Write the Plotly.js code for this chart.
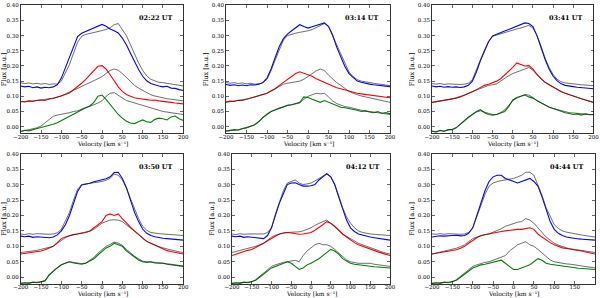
<!DOCTYPE html>
<html>
<head>
<meta charset="utf-8">
<script src="https://cdn.plot.ly/plotly-3.0.1.min.js"></script>
<style>html,body{margin:0;padding:0;background:#fff;}#plot{width:600px;height:298px;}</style>
</head>
<body>
<div id="plot"></div>
<script>
// Velocity grid [km/s]
const velocity = [-200,-190,-180,-170,-160,-150,-140,-130,-120,-110,-100,-90,-80,-70,-60,-50,-40,-30,-20,-10,0,10,20,30,40,50,60,70,80,90,100,110,120,130,140,150,160,170,180,190,200];

const panelLabels = ["02:22 UT","03:14 UT","03:41 UT","03:50 UT","04:12 UT","04:44 UT"];
const yTickVals = [0.00,0.05,0.10,0.15,0.20,0.25,0.30,0.35,0.40];
const yTickText = ["0.00","0.05","0.10","0.15","0.20","0.25","0.30","0.35","0.40"];
const xTickVals = [-200,-150,-100,-50,0,50,100,150,200];
const xTickText = ["\u2212200","\u2212150","\u2212100","\u221250","0","50","100","150","200"];

// ---- Panel 1: 02:22 UT
const p1Blue = [0.134,0.131,0.133,0.128,0.131,0.127,0.130,0.128,0.131,0.138,0.160,0.195,0.232,0.265,0.297,0.308,0.314,0.319,0.326,0.330,0.337,0.331,0.322,0.316,0.309,0.292,0.270,0.242,0.214,0.188,0.166,0.151,0.142,0.137,0.134,0.131,0.133,0.127,0.126,0.122,0.119];
const p1BlueRef = [0.145,0.142,0.144,0.141,0.143,0.140,0.142,0.139,0.141,0.140,0.150,0.176,0.205,0.242,0.278,0.298,0.304,0.307,0.310,0.313,0.316,0.320,0.326,0.336,0.340,0.322,0.300,0.270,0.240,0.210,0.186,0.167,0.156,0.150,0.146,0.145,0.143,0.140,0.138,0.137,0.134];
const p1Red = [0.083,0.081,0.085,0.083,0.087,0.088,0.086,0.091,0.093,0.097,0.100,0.106,0.111,0.121,0.130,0.143,0.156,0.170,0.186,0.199,0.201,0.190,0.171,0.150,0.131,0.116,0.106,0.100,0.095,0.093,0.090,0.089,0.087,0.088,0.085,0.084,0.082,0.080,0.078,0.077,0.075];
const p1RedRef = [0.082,0.083,0.082,0.085,0.086,0.088,0.089,0.092,0.094,0.097,0.101,0.108,0.115,0.120,0.126,0.132,0.140,0.145,0.150,0.158,0.165,0.176,0.185,0.190,0.186,0.175,0.161,0.149,0.136,0.127,0.120,0.112,0.105,0.101,0.097,0.095,0.092,0.090,0.088,0.086,0.085];
const p1Green = [-0.016,-0.012,-0.014,-0.009,-0.006,-0.003,0.000,0.004,0.008,0.013,0.020,0.028,0.036,0.042,0.050,0.055,0.062,0.068,0.080,0.100,0.104,0.090,0.072,0.054,0.040,0.028,0.018,0.012,0.010,0.016,0.022,0.016,0.014,0.024,0.028,0.026,0.022,0.032,0.035,0.026,0.020];
const p1GreenRef = [-0.016,-0.013,-0.012,-0.008,-0.004,0.002,0.012,0.024,0.034,0.038,0.040,0.044,0.046,0.050,0.052,0.058,0.062,0.066,0.072,0.078,0.085,0.100,0.110,0.112,0.104,0.096,0.086,0.082,0.078,0.072,0.070,0.066,0.062,0.058,0.052,0.050,0.048,0.046,0.044,0.042,0.040];

// ---- Panel 2: 03:14 UT
const p2Blue = [0.139,0.136,0.138,0.135,0.137,0.135,0.138,0.137,0.140,0.145,0.160,0.190,0.228,0.264,0.290,0.305,0.316,0.326,0.336,0.330,0.325,0.329,0.334,0.338,0.342,0.331,0.302,0.262,0.228,0.198,0.175,0.161,0.150,0.146,0.142,0.140,0.138,0.136,0.135,0.133,0.132];
const p2BlueRef = [0.145,0.143,0.145,0.142,0.144,0.141,0.143,0.140,0.141,0.145,0.156,0.185,0.220,0.255,0.285,0.300,0.305,0.308,0.311,0.313,0.316,0.320,0.326,0.332,0.340,0.330,0.300,0.266,0.235,0.205,0.180,0.165,0.155,0.150,0.147,0.145,0.143,0.141,0.139,0.137,0.135];
const p2Red = [0.082,0.084,0.083,0.087,0.086,0.090,0.093,0.097,0.100,0.105,0.110,0.118,0.125,0.136,0.146,0.156,0.166,0.175,0.181,0.176,0.170,0.166,0.158,0.152,0.146,0.140,0.132,0.128,0.125,0.121,0.116,0.112,0.110,0.108,0.106,0.104,0.102,0.100,0.098,0.097,0.095];
const p2RedRef = [0.080,0.082,0.083,0.086,0.088,0.091,0.094,0.098,0.101,0.105,0.110,0.117,0.125,0.133,0.140,0.143,0.145,0.147,0.150,0.156,0.165,0.175,0.184,0.190,0.185,0.170,0.156,0.145,0.136,0.126,0.116,0.110,0.105,0.101,0.098,0.095,0.092,0.089,0.086,0.083,0.080];
const p2Green = [-0.015,-0.013,-0.010,-0.012,-0.006,-0.004,0.000,0.006,0.016,0.030,0.040,0.050,0.055,0.060,0.066,0.070,0.072,0.076,0.080,0.098,0.096,0.090,0.086,0.080,0.086,0.080,0.074,0.070,0.064,0.062,0.060,0.056,0.054,0.050,0.052,0.048,0.046,0.050,0.044,0.046,0.042];
const p2GreenRef = [-0.015,-0.014,-0.011,-0.010,-0.007,-0.003,0.001,0.006,0.018,0.030,0.042,0.050,0.056,0.062,0.065,0.070,0.072,0.075,0.078,0.090,0.100,0.105,0.110,0.108,0.110,0.098,0.085,0.076,0.070,0.066,0.064,0.060,0.056,0.054,0.052,0.050,0.046,0.044,0.042,0.041,0.040];

// ---- Panel 3: 03:41 UT
const p3Blue = [0.134,0.131,0.133,0.130,0.132,0.130,0.131,0.129,0.131,0.136,0.150,0.180,0.218,0.250,0.280,0.299,0.305,0.310,0.315,0.320,0.325,0.330,0.335,0.342,0.340,0.330,0.300,0.260,0.222,0.190,0.166,0.151,0.141,0.136,0.133,0.132,0.130,0.129,0.128,0.126,0.125];
const p3BlueRef = [0.142,0.140,0.142,0.139,0.141,0.140,0.141,0.139,0.140,0.143,0.155,0.185,0.220,0.252,0.280,0.298,0.302,0.306,0.310,0.315,0.320,0.322,0.325,0.330,0.334,0.325,0.300,0.266,0.226,0.195,0.172,0.156,0.148,0.144,0.142,0.140,0.139,0.138,0.137,0.136,0.135];
const p3Red = [0.080,0.082,0.084,0.086,0.088,0.090,0.094,0.098,0.103,0.109,0.115,0.122,0.130,0.136,0.140,0.145,0.150,0.158,0.170,0.183,0.195,0.210,0.205,0.200,0.201,0.190,0.172,0.158,0.146,0.138,0.130,0.122,0.115,0.110,0.105,0.100,0.096,0.092,0.088,0.084,0.080];
const p3RedRef = [0.080,0.082,0.084,0.086,0.089,0.091,0.095,0.099,0.104,0.110,0.115,0.120,0.126,0.132,0.136,0.138,0.141,0.150,0.160,0.168,0.175,0.180,0.185,0.188,0.195,0.186,0.170,0.157,0.146,0.138,0.130,0.122,0.116,0.110,0.105,0.100,0.096,0.092,0.088,0.084,0.080];
const p3Green = [-0.015,-0.018,-0.012,-0.016,-0.010,-0.010,-0.004,0.008,0.018,0.030,0.040,0.050,0.056,0.046,0.040,0.038,0.040,0.044,0.050,0.066,0.088,0.096,0.100,0.104,0.098,0.094,0.086,0.078,0.070,0.064,0.060,0.055,0.050,0.046,0.043,0.040,0.042,0.038,0.042,0.039,0.040];
const p3GreenRef = [-0.015,-0.016,-0.014,-0.014,-0.011,-0.009,-0.003,0.009,0.020,0.032,0.040,0.048,0.052,0.048,0.044,0.040,0.040,0.046,0.055,0.070,0.085,0.094,0.100,0.106,0.104,0.096,0.085,0.078,0.070,0.065,0.060,0.056,0.052,0.048,0.046,0.045,0.044,0.042,0.041,0.040,0.039];

// ---- Panel 4: 03:50 UT
const p4Blue = [0.133,0.131,0.133,0.129,0.131,0.130,0.131,0.128,0.130,0.137,0.150,0.170,0.200,0.240,0.278,0.299,0.301,0.304,0.309,0.312,0.315,0.319,0.325,0.339,0.340,0.320,0.290,0.250,0.210,0.180,0.156,0.142,0.135,0.131,0.128,0.126,0.125,0.124,0.122,0.121,0.120];
const p4BlueRef = [0.140,0.138,0.141,0.139,0.141,0.140,0.141,0.139,0.140,0.144,0.155,0.180,0.210,0.250,0.285,0.300,0.302,0.303,0.305,0.308,0.310,0.314,0.320,0.334,0.330,0.315,0.290,0.255,0.220,0.190,0.165,0.152,0.145,0.142,0.141,0.140,0.139,0.138,0.137,0.136,0.135];
const p4Red = [0.075,0.077,0.079,0.080,0.083,0.085,0.089,0.094,0.100,0.112,0.125,0.130,0.135,0.138,0.140,0.142,0.145,0.150,0.160,0.170,0.180,0.200,0.205,0.200,0.205,0.190,0.175,0.162,0.150,0.138,0.125,0.116,0.110,0.104,0.098,0.090,0.086,0.083,0.080,0.077,0.075];
const p4RedRef = [0.080,0.081,0.083,0.085,0.087,0.090,0.093,0.097,0.100,0.110,0.120,0.128,0.135,0.138,0.140,0.142,0.145,0.149,0.155,0.165,0.175,0.180,0.185,0.186,0.185,0.180,0.170,0.160,0.150,0.138,0.125,0.116,0.110,0.104,0.099,0.095,0.091,0.088,0.085,0.082,0.080];
const p4Green = [-0.020,-0.018,-0.020,-0.016,-0.018,-0.015,-0.012,0.008,0.020,0.030,0.040,0.045,0.050,0.046,0.045,0.042,0.045,0.052,0.060,0.072,0.085,0.095,0.100,0.110,0.105,0.100,0.085,0.075,0.065,0.056,0.050,0.048,0.050,0.046,0.045,0.045,0.042,0.040,0.038,0.036,0.035];
const p4GreenRef = [-0.020,-0.019,-0.018,-0.017,-0.016,-0.015,-0.010,0.006,0.020,0.031,0.040,0.046,0.050,0.048,0.046,0.044,0.046,0.054,0.064,0.078,0.090,0.100,0.106,0.114,0.110,0.104,0.090,0.078,0.068,0.060,0.052,0.050,0.050,0.048,0.047,0.046,0.044,0.042,0.040,0.038,0.036];

// ---- Panel 5: 04:12 UT
const p5Blue = [0.133,0.131,0.133,0.129,0.131,0.130,0.128,0.126,0.125,0.135,0.160,0.200,0.240,0.270,0.300,0.305,0.306,0.300,0.295,0.295,0.296,0.300,0.315,0.325,0.335,0.325,0.300,0.260,0.220,0.185,0.160,0.148,0.140,0.136,0.133,0.130,0.128,0.126,0.124,0.122,0.120];
const p5BlueRef = [0.140,0.138,0.141,0.139,0.140,0.140,0.141,0.139,0.140,0.145,0.160,0.205,0.245,0.280,0.305,0.310,0.315,0.305,0.300,0.302,0.305,0.312,0.320,0.328,0.335,0.325,0.300,0.265,0.225,0.195,0.175,0.160,0.150,0.145,0.142,0.140,0.139,0.138,0.137,0.136,0.135];
const p5Red = [0.070,0.075,0.079,0.083,0.087,0.090,0.096,0.102,0.110,0.118,0.125,0.133,0.140,0.143,0.145,0.143,0.140,0.139,0.140,0.142,0.145,0.152,0.160,0.170,0.180,0.175,0.165,0.152,0.140,0.130,0.120,0.112,0.105,0.100,0.095,0.090,0.086,0.082,0.078,0.074,0.070];
const p5RedRef = [0.080,0.083,0.086,0.089,0.092,0.095,0.100,0.105,0.110,0.120,0.130,0.136,0.140,0.143,0.145,0.145,0.145,0.147,0.150,0.155,0.160,0.168,0.175,0.180,0.185,0.175,0.165,0.152,0.140,0.132,0.125,0.116,0.110,0.105,0.100,0.095,0.090,0.086,0.082,0.078,0.075];
const p5Green = [-0.020,-0.018,-0.020,-0.016,-0.018,-0.015,-0.010,0.000,0.010,0.020,0.030,0.035,0.040,0.045,0.050,0.045,0.035,0.025,0.030,0.040,0.045,0.052,0.060,0.070,0.080,0.090,0.085,0.075,0.060,0.052,0.045,0.042,0.040,0.038,0.036,0.035,0.034,0.033,0.032,0.031,0.030];
const p5GreenRef = [-0.020,-0.019,-0.018,-0.017,-0.016,-0.015,-0.008,0.002,0.012,0.025,0.035,0.040,0.045,0.048,0.050,0.052,0.055,0.050,0.070,0.085,0.095,0.105,0.110,0.105,0.105,0.100,0.090,0.078,0.065,0.056,0.050,0.047,0.045,0.045,0.046,0.045,0.042,0.040,0.038,0.036,0.035];

// ---- Panel 6: 04:44 UT
const p6Blue = [0.130,0.132,0.134,0.133,0.135,0.135,0.136,0.134,0.135,0.142,0.160,0.200,0.240,0.280,0.310,0.325,0.330,0.330,0.320,0.315,0.310,0.305,0.310,0.315,0.320,0.310,0.295,0.260,0.220,0.180,0.155,0.142,0.135,0.130,0.128,0.125,0.124,0.123,0.122,0.121,0.120];
const p6BlueRef = [0.140,0.139,0.141,0.139,0.141,0.140,0.141,0.139,0.140,0.145,0.160,0.195,0.235,0.268,0.295,0.305,0.310,0.312,0.315,0.318,0.320,0.325,0.330,0.340,0.340,0.330,0.300,0.265,0.225,0.195,0.170,0.158,0.150,0.146,0.143,0.140,0.138,0.136,0.134,0.132,0.130];
const p6Red = [0.075,0.077,0.079,0.081,0.083,0.085,0.089,0.094,0.100,0.110,0.120,0.128,0.135,0.138,0.140,0.142,0.145,0.148,0.150,0.152,0.155,0.155,0.155,0.157,0.160,0.155,0.140,0.130,0.120,0.112,0.105,0.100,0.095,0.093,0.091,0.090,0.087,0.084,0.081,0.078,0.075];
const p6RedRef = [0.075,0.078,0.081,0.084,0.087,0.090,0.094,0.099,0.105,0.115,0.125,0.130,0.135,0.138,0.140,0.145,0.150,0.157,0.165,0.170,0.175,0.178,0.180,0.190,0.185,0.175,0.160,0.145,0.130,0.120,0.110,0.104,0.099,0.095,0.092,0.090,0.088,0.086,0.084,0.082,0.080];
const p6Green = [-0.020,-0.018,-0.020,-0.016,-0.018,-0.015,-0.010,0.000,0.010,0.020,0.030,0.035,0.040,0.042,0.045,0.048,0.050,0.055,0.045,0.035,0.025,0.025,0.030,0.035,0.040,0.050,0.060,0.055,0.045,0.042,0.040,0.037,0.035,0.033,0.032,0.030,0.029,0.028,0.027,0.026,0.025];
const p6GreenRef = [-0.020,-0.019,-0.018,-0.017,-0.016,-0.015,-0.008,0.002,0.014,0.025,0.035,0.040,0.045,0.048,0.050,0.055,0.060,0.065,0.070,0.085,0.095,0.105,0.110,0.115,0.105,0.100,0.090,0.078,0.065,0.056,0.050,0.047,0.045,0.043,0.042,0.040,0.037,0.035,0.033,0.031,0.030];

const panelSeries = [
  [p1Blue,p1BlueRef,p1Red,p1RedRef,p1Green,p1GreenRef],
  [p2Blue,p2BlueRef,p2Red,p2RedRef,p2Green,p2GreenRef],
  [p3Blue,p3BlueRef,p3Red,p3RedRef,p3Green,p3GreenRef],
  [p4Blue,p4BlueRef,p4Red,p4RedRef,p4Green,p4GreenRef],
  [p5Blue,p5BlueRef,p5Red,p5RedRef,p5Green,p5GreenRef],
  [p6Blue,p6BlueRef,p6Red,p6RedRef,p6Green,p6GreenRef]
];

// layout geometry (pixels): left, right, top, bottom, x-title centre y
const W = 600, H = 298;
const boxes = [
  [20.7,183.3,5.3,133.3,143.8],
  [226,390,5.3,133.3,143.8],
  [432,593.5,5.3,133.3,143.8],
  [20.7,183.3,153.7,284,293.6],
  [232,390,153.7,284,293.6],
  [432,595,153.7,284,293.6]
];

const colored = ["#0000ff","#ff0000","#008000"];
const traces = [];
const layout = {
  width: W, height: H,
  margin: {l:0,r:0,t:0,b:0},
  paper_bgcolor: "#fff", plot_bgcolor: "#fff",
  showlegend: false,
  font: {family: "DejaVu Serif", size: 6, color: "#000"},
  annotations: []
};

panelSeries.forEach((series, i) => {
  const n = i + 1;
  const xa = n === 1 ? "x" : "x" + n;
  const ya = n === 1 ? "y" : "y" + n;
  for (let k = 0; k < 3; k++) {
    traces.push({x: velocity, y: series[2*k], xaxis: xa, yaxis: ya, type: "scatter", mode: "lines",
      line: {color: colored[k], width: 1.1}, hoverinfo: "skip"});
  }
  for (let k = 0; k < 3; k++) {
    traces.push({x: velocity, y: series[2*k+1], xaxis: xa, yaxis: ya, type: "scatter", mode: "lines",
      line: {color: "rgba(40,40,40,0.85)", width: 0.8}, hoverinfo: "skip"});
  }
  const b = boxes[i];
  const axCommon = {
    showline: true, mirror: "ticks", linecolor: "#000", linewidth: 0.8,
    ticks: "inside", ticklen: 3, tickwidth: 0.6, tickcolor: "#000",
    showgrid: false, zeroline: false,
    tickfont: {family: "DejaVu Serif", size: 5.5, color: "#000"}
  };
  layout["xaxis" + (n === 1 ? "" : n)] = Object.assign({}, axCommon, {
    domain: [b[0]/W, b[1]/W], anchor: ya, range: [-200, 200],
    tickmode: "array", tickvals: xTickVals, ticktext: xTickText,
    ticklabelstandoff: -2
  });
  layout["yaxis" + (n === 1 ? "" : n)] = Object.assign({}, axCommon, {
    domain: [1 - b[3]/H, 1 - b[2]/H], anchor: xa, range: [-0.022, 0.40],
    tickmode: "array", tickvals: yTickVals, ticktext: yTickText,
    title: {text: "Flux [a.u.]", font: {family: "DejaVu Serif", size: 6.5}, standoff: 2}
  });
  layout.annotations.push({
    text: "Velocity [km s\u207B\u00B9]", xref: xa + " domain", yref: "paper",
    x: 0.5, y: 1 - b[4]/H, xanchor: "center", yanchor: "middle", showarrow: false,
    font: {family: "DejaVu Serif", size: 6, color: "#000"}
  });
  layout.annotations.push({
    text: "<b>" + panelLabels[i] + "</b>", xref: xa + " domain", yref: ya + " domain",
    x: 0.94, y: 0.9, xanchor: "right", yanchor: "middle", showarrow: false,
    font: {family: "DejaVu Serif", size: 6.5, color: "#000"}
  });
});

Plotly.newPlot("plot", traces, layout, {staticPlot: true, displayModeBar: false});
</script>
</body>
</html>
